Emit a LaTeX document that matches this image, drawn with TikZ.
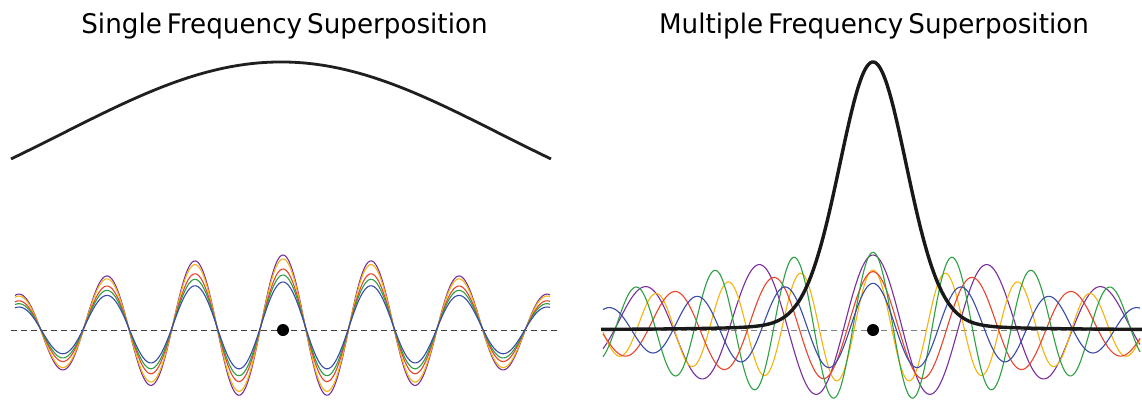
\documentclass[tikz,border=0pt]{standalone}
\usepackage{fontspec}
\newfontfamily\titlefont[FakeStretch=0.97,WordSpace=0.6]{DejaVu Sans}
\definecolor{wblue}{HTML}{3A4BA8}
\definecolor{wgreen}{HTML}{2EA043}
\definecolor{wred}{HTML}{E8452C}
\definecolor{wyellow}{HTML}{F5B30F}
\definecolor{wpurple}{HTML}{7B2F9E}
\pgfmathdeclarefunction{wv}{4}{%
  \pgfmathparse{330 - exp(-0.5*((#1-#2)/218)^2)*(#4*cos(((#1-#2)/#3)*360)+4.2)}}
\begin{document}
\begin{tikzpicture}[x=1pt,y=-1pt,
  wave/.style={line width=1.1pt},
  envline/.style={line width=2.8pt, draw=black!88},
  peakline/.style={line width=3.4pt, draw=black!90},
  axisline/.style={dash pattern=on 6pt off 4pt, line width=1pt},
  dotnode/.style={circle, fill=black, inner sep=0pt, minimum size=12pt},
  ttl/.style={font=\titlefont\fontsize{27}{30}\selectfont, anchor=base, inner sep=0pt}]
\useasboundingbox (0,0) rectangle (1142,400);
\fill[white] (0,0) rectangle (1142,400);

% titles
\node[ttl] (t1) at (284.5,33.3) {Single Frequency Superposition};
\node[ttl] (t2) at (874,33.3) {Multiple Frequency Superposition};

% ---------- left panel ----------
\draw[envline] plot[domain=11:551, samples=160] (\x, {243 - 181*exp(-0.5*((\x-281)/218)^2)});
\coordinate (la) at (11,330);
\coordinate (lb) at (560,330);
\draw[axisline, black!75] (la) -- (lb);
\draw[wave, wpurple] plot[domain=15:550, samples=360] (\x, {wv(\x,283,88.4,70.8)});
\draw[wave, wyellow] plot[domain=15:550, samples=360] (\x, {wv(\x,283,88.4,66.8)});
\draw[wave, wred]    plot[domain=15:550, samples=360] (\x, {wv(\x,283,88.4,56.8)});
\draw[wave, wgreen]  plot[domain=15:550, samples=360] (\x, {wv(\x,283,88.4,50.8)});
\draw[wave, wblue]   plot[domain=15:550, samples=360] (\x, {wv(\x,283,88.4,43.8)});
\node[dotnode] (d1) at (283,330) {};

% ---------- right panel ----------
\coordinate (ra) at (601,330);
\coordinate (rb) at (1142,330);
\draw[axisline, black!50] (ra) -- (rb);
\draw[wave, wpurple] plot[domain=603:1140, samples=400] (\x, {wv(\x,873,114.5,70.8)});
\draw[wave, wyellow] plot[domain=603:1140, samples=400] (\x, {wv(\x,873,72.5,55.8)});
\draw[wave, wred]    plot[domain=603:1140, samples=400] (\x, {wv(\x,873,99.5,54.1)});
\draw[wave, wgreen]  plot[domain=603:1140, samples=400] (\x, {wv(\x,873,79.2,73.5)});
\draw[wave, wblue]   plot[domain=603:1140, samples=400] (\x, {wv(\x,873,88.3,42.5)});
\draw[peakline] plot[domain=601:1142, samples=400] (\x, {330 - 238*exp(-0.5*((\x-873)/34)^2) - 30/(1+((\x-873)/40)^2)});
\node[dotnode] (d2) at (873,330) {};
\end{tikzpicture}
\end{document}
